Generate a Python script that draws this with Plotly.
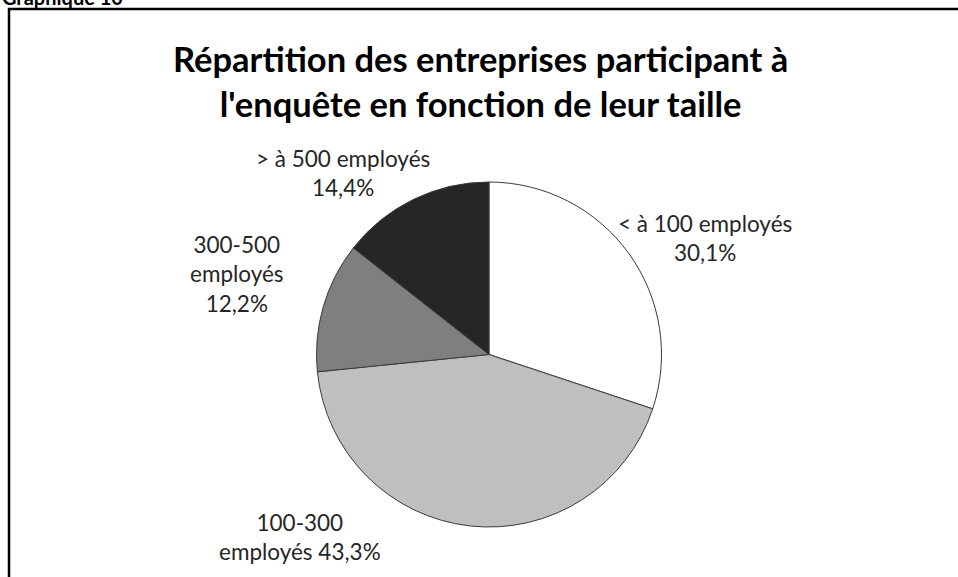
import plotly.graph_objects as go

categories = ["< à 100 employés", "100-300 employés", "300-500 employés", "> à 500 employés"]
values = [30.1, 43.3, 12.2, 14.4]
label_texts = ["< à 100 employés<br>30,1%", "100-300<br>employés 43,3%",
               "300-500<br>employés<br>12,2%", "> à 500 employés<br>14,4%"]
colors = ["#FFFFFF", "#BFBFBF", "#7F7F7F", "#262626"]
title_text = "Répartition des entreprises participant à<br>l'enquête en fonction de leur taille"
header_text = "Graphique 10"

W, H = 958, 577

def px(x):
    return x / W

def py(y):
    return 1 - y / H

fig = go.Figure()
fig.add_trace(go.Pie(
    labels=categories, values=values, sort=False, direction="clockwise", rotation=0,
    marker=dict(colors=colors, line=dict(color="#3a3a3a", width=1)),
    textinfo="none", hoverinfo="label+percent", showlegend=False,
    domain=dict(x=[px(316.5), px(661.5)], y=[py(527), py(182)]),
))

# label positions (pixel centres)
label_pos = [(705, 238), (300, 537), (237, 274), (343, 173)]
annotations = []
for t, (x, y) in zip(label_texts, label_pos):
    annotations.append(dict(text=t, x=px(x), y=py(y), xref="paper", yref="paper",
                            xanchor="center", yanchor="middle", showarrow=False,
                            align="center", font=dict(family="Lato", size=22.5, color="#262626")))
annotations.append(dict(text="<b>" + title_text.replace("<br>", "</b><br><b>") + "</b>",
                        x=px(480), y=py(81), xref="paper", yref="paper",
                        xanchor="center", yanchor="middle", showarrow=False, align="center",
                        font=dict(family="Lato", size=34.5, color="#000000")))
annotations.append(dict(text="<b>" + header_text + "</b>", x=0, y=py(-3), xref="paper", yref="paper",
                        xanchor="left", yanchor="middle", showarrow=False,
                        font=dict(family="Lato", size=20, color="#000000")))

fig.update_layout(
    width=W, height=H, margin=dict(l=0, r=0, t=0, b=0),
    paper_bgcolor="white", plot_bgcolor="white",
    annotations=annotations,
    shapes=[dict(type="rect", xref="paper", yref="paper",
                 x0=px(9), y0=py(590), x1=px(980), y1=py(9),
                 line=dict(color="black", width=2.5))],
)

fig.write_html("out.html", config={"displayModeBar": False},
               post_script="document.body.style.margin='0';document.body.style.overflow='hidden';")
